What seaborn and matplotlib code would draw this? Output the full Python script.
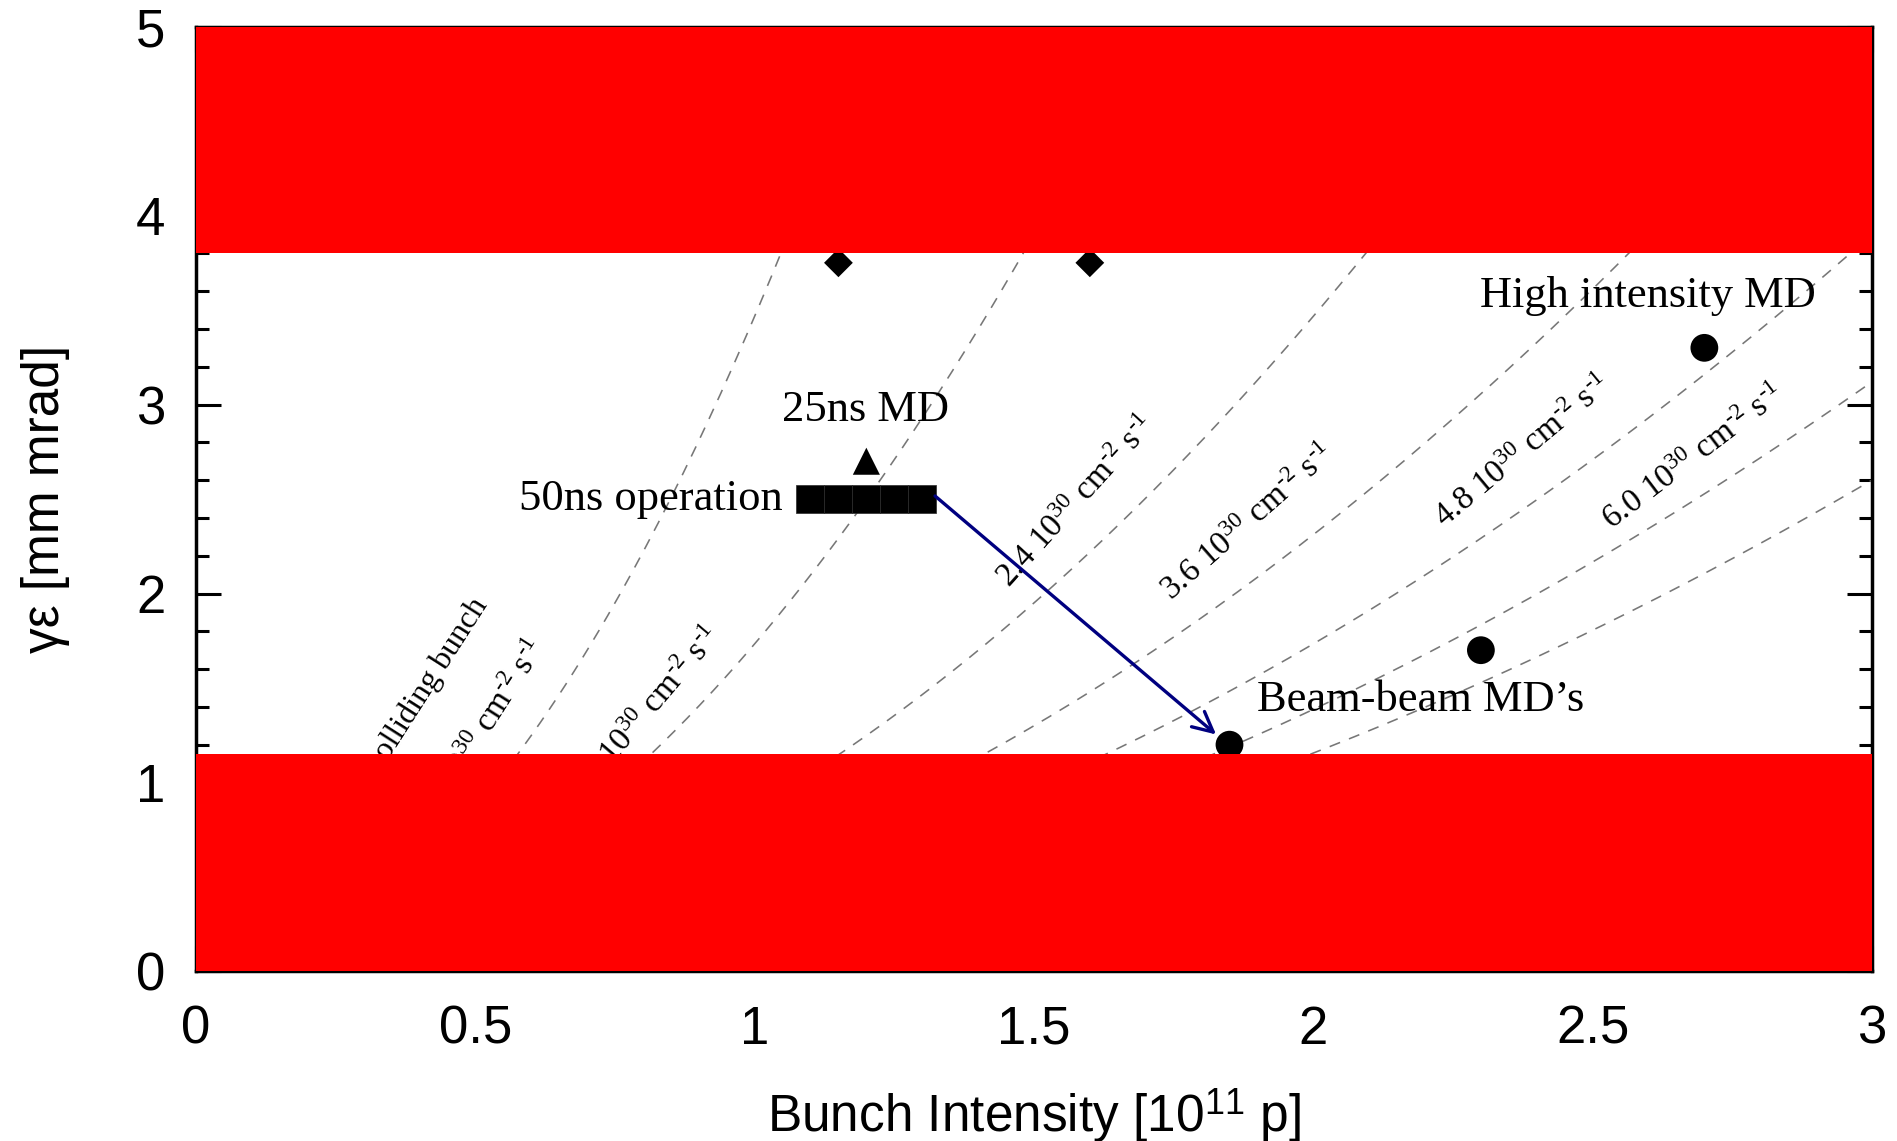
import numpy as np
import pandas as pd
import matplotlib
matplotlib.use("Agg")
import matplotlib.pyplot as plt
from matplotlib.ticker import MultipleLocator
import seaborn as sns

# ---------------- data ----------------
lumi_values = [0.6, 1.2, 2.4, 3.6, 4.8, 6.0, 7.2]      # 10^30 cm^-2 s^-1 per colliding bunch
lumi_const = 2.08                                         # eps = const * N^2 / L
band_low = [0.0, 1.15]
band_high = [3.8, 5.0]

diamond_x = [1.15, 1.6]
diamond_y = [3.75, 3.75]
triangle_x = [1.2]
triangle_y = [2.7]
square_x = [1.1, 1.15, 1.2, 1.25, 1.3]
square_y = [2.5, 2.5, 2.5, 2.5, 2.5]
circle_x = [1.85, 2.3, 2.7]
circle_y = [1.2, 1.7, 3.3]

arrow_start = (1.323, 2.516)
arrow_end = (1.826, 1.254)

x_ticks = [0, 0.5, 1, 1.5, 2, 2.5, 3]
x_tick_labels = ["0", "0.5", "1", "1.5", "2", "2.5", "3"]
y_ticks = [0, 1, 2, 3, 4, 5]

line_labels = ["0.6 10$^{30}$ cm$^{\\text{-2}}$ s$^{\\text{-1}}$",
               "1.2 10$^{30}$ cm$^{\\text{-2}}$ s$^{\\text{-1}}$",
               "2.4 10$^{30}$ cm$^{\\text{-2}}$ s$^{\\text{-1}}$",
               "3.6 10$^{30}$ cm$^{\\text{-2}}$ s$^{\\text{-1}}$",
               "4.8 10$^{30}$ cm$^{\\text{-2}}$ s$^{\\text{-1}}$",
               "6.0 10$^{30}$ cm$^{\\text{-2}}$ s$^{\\text{-1}}$"]
line_label_x = [0.615, 0.932, 1.577, 1.883, 2.377, 2.681]
line_label_y = [1.74, 1.80, 2.484, 2.373, 2.749, 2.72]
line_label_ha = ["right", "right", "center", "center", "center", "center"]
bunch_label = "Luminosity per colliding bunch"
bunch_label_xy = (0.512, 1.965)

annot_text = ["High intensity MD", "25ns MD", "50ns operation", "Beam-beam MD\u2019s"]
annot_x = [2.298, 1.199, 1.051, 1.899]
annot_y = [3.514, 2.914, 2.442, 1.38]
annot_ha = ["left", "center", "right", "left"]

# ---------------- style ----------------
sns.set_style("ticks")
plt.rcParams["font.family"] = ["Liberation Sans", "DejaVu Sans"]
plt.rcParams["mathtext.fontset"] = "custom"
plt.rcParams["mathtext.rm"] = "Liberation Serif"
plt.rcParams["mathtext.it"] = "Liberation Serif:italic"
plt.rcParams["mathtext.bf"] = "Liberation Serif:bold"
plt.rcParams["mathtext.sf"] = "Liberation Sans"
plt.rcParams["text.color"] = "black"
plt.rcParams["axes.labelcolor"] = "black"
plt.rcParams["axes.edgecolor"] = "black"
plt.rcParams["xtick.color"] = "black"
plt.rcParams["ytick.color"] = "black"

fig = plt.figure(figsize=(18.97, 11.41), dpi=100)
ax = fig.add_axes([0.1033, 0.1486, 0.8835, 0.8281])
ax.set_xlim(0, 3)
ax.set_ylim(0, 5)

# iso-luminosity dashed curves
N = np.linspace(0, 3, 400)
for L in lumi_values:
    df = pd.DataFrame({"N": N, "eps": lumi_const * N ** 2 / L})
    sns.lineplot(data=df, x="N", y="eps", ax=ax, color="#777777",
                 linewidth=1.15, linestyle=(0, (7, 6)), zorder=1.5)

# markers
sns.scatterplot(x=diamond_x, y=diamond_y, ax=ax, marker="D", s=215,
                color="black", edgecolor="none", zorder=3)
sns.scatterplot(x=triangle_x, y=triangle_y, ax=ax, marker="^", s=380,
                color="black", edgecolor="none", zorder=3)
sns.scatterplot(x=square_x, y=square_y, ax=ax, marker="s", s=400,
                color="black", edgecolor="#2a2a2a", linewidth=0.5, zorder=3)
sns.scatterplot(x=circle_x, y=circle_y, ax=ax, marker="o", s=400,
                color="black", edgecolor="none", zorder=3)

ax.annotate("", xy=arrow_end, xytext=arrow_start,
            arrowprops=dict(arrowstyle="->", color="#000080", lw=2.4,
                            mutation_scale=36, shrinkA=0, shrinkB=0),
            zorder=3)

# red forbidden bands
ax.axhspan(band_low[0], band_low[1], color="#ff0000", lw=0, zorder=4)
ax.axhspan(band_high[0], band_high[1], color="#ff0000", lw=0, zorder=4)

# line labels
def line_angle(L, x, extra):
    k = lumi_const / L
    p1 = ax.transData.transform((x, k * x * x))
    x2 = x + 0.005
    p2 = ax.transData.transform((x2, k * x2 * x2))
    return np.degrees(np.arctan2(p2[1] - p1[1], p2[0] - p1[0])) + extra

for i, txt in enumerate(line_labels):
    extra = 5.0 if line_label_ha[i] == "center" else 2.0
    ang = line_angle(lumi_values[i], line_label_x[i], extra)
    ax.text(line_label_x[i], line_label_y[i], txt, rotation=ang,
            rotation_mode="anchor", ha=line_label_ha[i], va="center",
            fontsize=24, family="Liberation Serif", zorder=2)

ang0 = line_angle(lumi_values[0], line_label_x[0], 2.0)
ax.text(bunch_label_xy[0], bunch_label_xy[1], bunch_label, rotation=ang0,
        rotation_mode="anchor", ha="right", va="center",
        fontsize=23, family="Liberation Serif", zorder=2)

for t, x, y, ha in zip(annot_text, annot_x, annot_y, annot_ha):
    ax.text(x, y, t, ha=ha, va="baseline", fontsize=32,
            family="Liberation Serif", zorder=3.5)

# axes
ax.set_xticks(x_ticks)
ax.set_xticklabels(x_tick_labels)
ax.set_yticks(y_ticks)
ax.yaxis.set_minor_locator(MultipleLocator(0.2))
ax.tick_params(axis="y", which="both", direction="in", left=True, right=True,
               labelright=False, width=2.2, labelsize=38, pad=22)
ax.tick_params(axis="y", which="major", length=18)
ax.tick_params(axis="y", which="minor", length=9.5)
ax.tick_params(axis="x", which="both", direction="in", bottom=True, top=True,
               length=18, width=2.2, labelsize=38, pad=24)
for s in ax.spines.values():
    s.set_linewidth(2.5)
    s.set_visible(True)

ax.set_xlabel("Bunch Intensity [10$^{\\mathsf{11}}$ p]", fontsize=37)
ax.set_ylabel("\u03b3\u03b5 [mm mrad]", fontsize=37)
ax.xaxis.label.set_va("baseline")
ax.xaxis.set_label_coords(0.5, -0.1688)
ax.yaxis.set_label_coords(-0.075, 0.5)

fig.savefig("out.png", dpi=100)
